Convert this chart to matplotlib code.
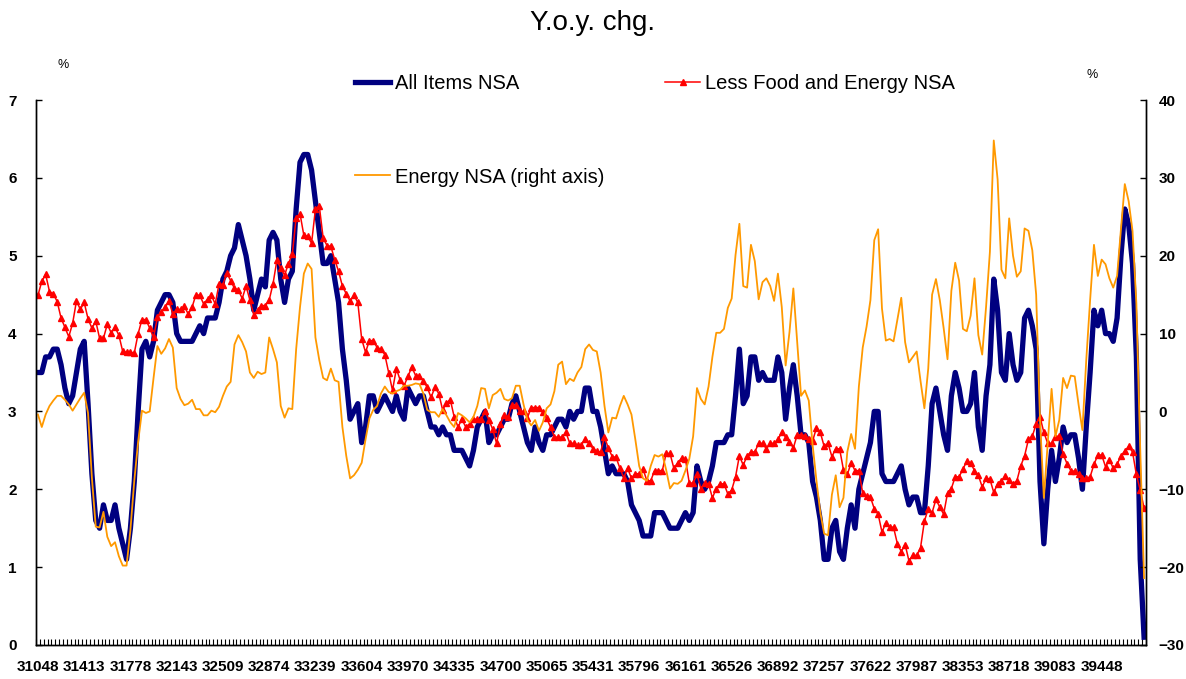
import matplotlib
matplotlib.use("Agg")
import matplotlib.pyplot as plt
import numpy as np

plt.rcParams['font.family'] = ['Liberation Sans', 'DejaVu Sans']

# x labels: Excel date serials, one per January 1985-2008
tick_labels = ['31048', '31413', '31778', '32143', '32509', '32874', '33239', '33604',
               '33970', '34335', '34700', '35065', '35431', '35796', '36161', '36526',
               '36892', '37257', '37622', '37987', '38353', '38718', '39083', '39448']

# CPI all items NSA, y/y %  (monthly, Jan 1985 - Dec 2008)
all_items = [
    3.5, 3.5, 3.7, 3.7, 3.8, 3.8, 3.6, 3.3, 3.1, 3.2, 3.5, 3.8,
    3.9, 3.1, 2.2, 1.6, 1.5, 1.8, 1.6, 1.6, 1.8, 1.5, 1.3, 1.1,
    1.5, 2.1, 3.0, 3.8, 3.9, 3.7, 3.9, 4.3, 4.4, 4.5, 4.5, 4.4,
    4.0, 3.9, 3.9, 3.9, 3.9, 4.0, 4.1, 4.0, 4.2, 4.2, 4.2, 4.4,
    4.7, 4.8, 5.0, 5.1, 5.4, 5.2, 5.0, 4.7, 4.3, 4.5, 4.7, 4.6,
    5.2, 5.3, 5.2, 4.7, 4.4, 4.7, 4.8, 5.6, 6.2, 6.3, 6.3, 6.1,
    5.7, 5.3, 4.9, 4.9, 5.0, 4.7, 4.4, 3.8, 3.4, 2.9, 3.0, 3.1,
    2.6, 2.8, 3.2, 3.2, 3.0, 3.1, 3.2, 3.1, 3.0, 3.2, 3.0, 2.9,
    3.3, 3.2, 3.1, 3.2, 3.2, 3.0, 2.8, 2.8, 2.7, 2.8, 2.7, 2.7,
    2.5, 2.5, 2.5, 2.4, 2.3, 2.5, 2.8, 2.9, 3.0, 2.6, 2.7, 2.7,
    2.8, 2.9, 2.9, 3.1, 3.2, 3.0, 2.8, 2.6, 2.5, 2.8, 2.6, 2.5,
    2.7, 2.7, 2.8, 2.9, 2.9, 2.8, 3.0, 2.9, 3.0, 3.0, 3.3, 3.3,
    3.0, 3.0, 2.8, 2.5, 2.2, 2.3, 2.2, 2.2, 2.2, 2.1, 1.8, 1.7,
    1.6, 1.4, 1.4, 1.4, 1.7, 1.7, 1.7, 1.6, 1.5, 1.5, 1.5, 1.6,
    1.7, 1.6, 1.7, 2.3, 2.1, 2.0, 2.1, 2.3, 2.6, 2.6, 2.6, 2.7,
    2.7, 3.2, 3.8, 3.1, 3.2, 3.7, 3.7, 3.4, 3.5, 3.4, 3.4, 3.4,
    3.7, 3.5, 2.9, 3.3, 3.6, 3.2, 2.7, 2.7, 2.6, 2.1, 1.9, 1.6,
    1.1, 1.1, 1.5, 1.6, 1.2, 1.1, 1.5, 1.8, 1.5, 2.0, 2.2, 2.4,
    2.6, 3.0, 3.0, 2.2, 2.1, 2.1, 2.1, 2.2, 2.3, 2.0, 1.8, 1.9,
    1.9, 1.7, 1.7, 2.3, 3.1, 3.3, 3.0, 2.7, 2.5, 3.2, 3.5, 3.3,
    3.0, 3.0, 3.1, 3.5, 2.8, 2.5, 3.2, 3.6, 4.7, 4.3, 3.5, 3.4,
    4.0, 3.6, 3.4, 3.5, 4.2, 4.3, 4.1, 3.8, 2.1, 1.3, 2.0, 2.5,
    2.1, 2.4, 2.8, 2.6, 2.7, 2.7, 2.4, 2.0, 2.8, 3.5, 4.3, 4.1,
    4.3, 4.0, 4.0, 3.9, 4.2, 5.0, 5.6, 5.4, 4.9, 3.7, 1.1, 0.1]

# less food and energy NSA, y/y %
core = [
    4.49, 4.67, 4.76, 4.54, 4.51, 4.41, 4.20, 4.08, 3.96, 4.13, 4.42, 4.31,
    4.40, 4.19, 4.07, 4.16, 3.94, 3.94, 4.12, 4.01, 4.08, 3.98, 3.77, 3.76,
    3.76, 3.75, 4.00, 4.18, 4.18, 4.07, 3.95, 4.21, 4.28, 4.34, 4.42, 4.25,
    4.31, 4.31, 4.35, 4.25, 4.34, 4.50, 4.49, 4.38, 4.44, 4.49, 4.38, 4.64,
    4.63, 4.78, 4.68, 4.58, 4.56, 4.45, 4.61, 4.43, 4.24, 4.30, 4.36, 4.36,
    4.43, 4.64, 4.94, 4.84, 4.75, 4.90, 5.02, 5.49, 5.54, 5.26, 5.25, 5.16,
    5.60, 5.64, 5.23, 5.13, 5.12, 4.95, 4.80, 4.61, 4.51, 4.42, 4.49, 4.40,
    3.93, 3.76, 3.91, 3.91, 3.82, 3.80, 3.73, 3.50, 3.27, 3.55, 3.40, 3.33,
    3.45, 3.57, 3.46, 3.46, 3.39, 3.31, 3.18, 3.31, 3.23, 3.02, 3.11, 3.15,
    2.93, 2.80, 2.90, 2.80, 2.84, 2.90, 2.90, 2.90, 3.00, 2.89, 2.77, 2.59,
    2.84, 2.95, 2.93, 3.08, 3.08, 3.00, 3.00, 2.92, 3.05, 3.05, 3.05, 2.99,
    2.91, 2.80, 2.67, 2.67, 2.67, 2.73, 2.59, 2.59, 2.57, 2.57, 2.65, 2.60,
    2.52, 2.49, 2.48, 2.67, 2.53, 2.42, 2.41, 2.27, 2.15, 2.27, 2.14, 2.20,
    2.20, 2.26, 2.11, 2.11, 2.24, 2.24, 2.24, 2.46, 2.46, 2.27, 2.34, 2.40,
    2.39, 2.08, 2.08, 2.19, 2.01, 2.08, 2.07, 1.89, 2.01, 2.07, 2.07, 1.94,
    1.99, 2.16, 2.43, 2.31, 2.43, 2.48, 2.48, 2.59, 2.59, 2.52, 2.59, 2.59,
    2.64, 2.73, 2.67, 2.61, 2.53, 2.70, 2.70, 2.69, 2.64, 2.62, 2.79, 2.73,
    2.55, 2.59, 2.42, 2.52, 2.52, 2.25, 2.19, 2.34, 2.24, 2.24, 1.95, 1.91,
    1.90, 1.75, 1.68, 1.45, 1.57, 1.52, 1.51, 1.30, 1.20, 1.29, 1.08, 1.15,
    1.15, 1.25, 1.59, 1.75, 1.70, 1.87, 1.77, 1.68, 1.95, 2.01, 2.16, 2.16,
    2.26, 2.36, 2.34, 2.24, 2.18, 2.03, 2.14, 2.13, 1.96, 2.07, 2.11, 2.17,
    2.12, 2.07, 2.11, 2.30, 2.43, 2.64, 2.68, 2.84, 2.93, 2.73, 2.59, 2.59,
    2.67, 2.69, 2.45, 2.33, 2.24, 2.23, 2.20, 2.14, 2.14, 2.16, 2.32, 2.44,
    2.44, 2.29, 2.38, 2.27, 2.32, 2.43, 2.49, 2.55, 2.48, 2.19, 1.99, 1.76]

# energy NSA, y/y % (right axis)
energy = [
    -0.4, -2.0, -0.4, 0.7, 1.4, 2.0, 2.0, 1.5, 0.9, 0.1, 0.9, 1.7,
    2.4, -0.2, -8.5, -14.8, -14.9, -12.9, -16.1, -17.3, -16.8, -18.6, -19.8, -19.8,
    -15.2, -8.9, -3.9, 0.1, -0.2, 0.0, 4.3, 8.4, 7.4, 8.1, 9.3, 8.2,
    3.0, 1.6, 0.8, 1.0, 1.5, 0.3, 0.3, -0.5, -0.5, 0.1, -0.1, 0.6,
    2.0, 3.2, 3.8, 8.6, 9.8, 8.9, 7.7, 5.0, 4.3, 5.1, 4.8, 5.0,
    9.5, 8.0, 6.3, 0.7, -0.8, 0.4, 0.3, 8.0, 13.4, 17.7, 19.0, 18.3,
    9.5, 6.6, 4.3, 4.0, 5.5, 4.0, 3.8, -2.0, -5.7, -8.6, -8.2, -7.5,
    -6.6, -3.6, -0.9, 0.2, 0.7, 2.3, 3.2, 2.5, 2.3, 2.6, 2.8, 3.3,
    3.3, 3.4, 3.6, 3.5, 2.3, 0.2, -0.1, -0.1, -0.7, 0.3, -0.5, -1.4,
    -2.0, -0.2, -0.5, -0.9, -1.4, -0.7, 0.7, 3.0, 2.9, 0.4, 2.1, 2.4,
    2.9, 1.6, 1.4, 1.7, 3.3, 3.3, 0.9, -1.1, -1.8, -1.1, -2.5, -1.4,
    0.4, 0.9, 2.6, 6.0, 6.4, 3.5, 4.2, 3.9, 5.0, 5.7, 8.0, 8.6,
    7.9, 7.7, 5.0, 0.7, -2.7, -0.8, -0.9, 0.7, 2.0, 0.9, -0.4, -3.6,
    -7.0, -8.6, -8.9, -7.0, -5.6, -5.8, -5.5, -7.5, -9.9, -9.2, -9.3, -8.9,
    -7.6, -6.1, -3.2, 3.0, 1.6, 0.9, 3.2, 7.0, 10.1, 10.1, 10.6, 13.3,
    14.5, 20.1, 24.1, 16.1, 15.9, 21.4, 19.3, 14.4, 16.6, 17.1, 16.1, 14.2,
    17.7, 13.4, 5.9, 10.2, 15.8, 8.9, 2.0, 2.7, 1.4, -4.3, -8.9, -13.0,
    -15.7, -15.9, -10.7, -8.2, -12.3, -11.1, -5.2, -2.9, -4.8, 3.2, 8.2, 10.9,
    14.3, 22.0, 23.4, 13.2, 9.1, 9.3, 9.0, 11.8, 14.6, 8.9, 6.3, 7.0,
    7.7, 3.9, 0.4, 5.5, 15.0, 17.0, 14.3, 10.7, 6.7, 15.5, 19.1, 16.8,
    10.6, 10.3, 12.3, 17.1, 9.8, 7.3, 13.4, 20.5, 34.8, 29.8, 18.2, 17.1,
    24.8, 20.0, 17.3, 18.0, 23.5, 23.2, 20.7, 15.0, -1.1, -11.1, -4.1, 2.9,
    -3.2, -1.1, 4.3, 3.0, 4.6, 4.5, 0.9, -2.4, 6.6, 14.3, 21.4, 17.4,
    19.5, 18.9, 17.1, 15.9, 17.4, 23.4, 29.2, 27.0, 23.2, 13.9, -4.8, -21.4]

W, H = 1186, 679
x = np.arange(len(all_items))

fig = plt.figure(figsize=(W / 100, H / 100), dpi=100)
ax = fig.add_axes([36 / W, 1 - 645 / H, 1110 / W, 545 / H])
ax2 = ax.twinx()

l1, = ax.plot(x, all_items, color='#000080', lw=3.8, solid_joinstyle='round',
              label='All Items NSA')
l2, = ax.plot(x, core, color='#FF0000', lw=1.1, marker='^', ms=5,
              label='Less Food and Energy NSA')
l3, = ax2.plot(x, energy, color='#FF9900', lw=1.3, label='Energy NSA (right axis)')

ax.set_xlim(-0.5, len(x) - 0.5)
ax.set_ylim(0, 7)
ax2.set_ylim(-30, 40)
ax.set_yticks(range(0, 8))
ax2.set_yticks(range(-30, 41, 10))
ax.set_xticks(x[::12])
ax.set_xticklabels(tick_labels)
ax.set_xticks(np.arange(-0.5, len(x), 1), minor=True)

ax.tick_params(axis='x', which='major', length=0, pad=11, labelsize=11)
ax.tick_params(axis='x', which='minor', direction='in', length=4.5, width=0.8)
ax.tick_params(axis='y', direction='in', length=4, width=1, pad=14, labelsize=11)
ax2.tick_params(axis='y', direction='in', length=4, width=1, pad=9, labelsize=11)

for lbl in ax.get_xticklabels() + ax.get_yticklabels() + ax2.get_yticklabels():
    lbl.set_fontweight('bold')

for a in (ax, ax2):
    a.spines['top'].set_visible(False)
    for s in ('left', 'right', 'bottom'):
        a.spines[s].set_linewidth(1)

fig.text(0.5, 1 - 30 / H, 'Y.o.y. chg.', ha='center', va='baseline', fontsize=20)
fig.text(63 / W, 1 - 65 / H, '%', ha='center', va='center', fontsize=9)
fig.text(1092 / W, 1 - 75 / H, '%', ha='center', va='center', fontsize=9)

fig.legend(handles=[l1, l3, l2], ncol=2, loc='upper left',
           bbox_to_anchor=(355 / W, 1 - 74 / H), frameon=False,
           fontsize=14.5, handlelength=1.75, handletextpad=0.25,
           columnspacing=3.0, labelspacing=3.7, borderpad=0, borderaxespad=0,
           numpoints=1)

fig.savefig('out.png', dpi=100)
